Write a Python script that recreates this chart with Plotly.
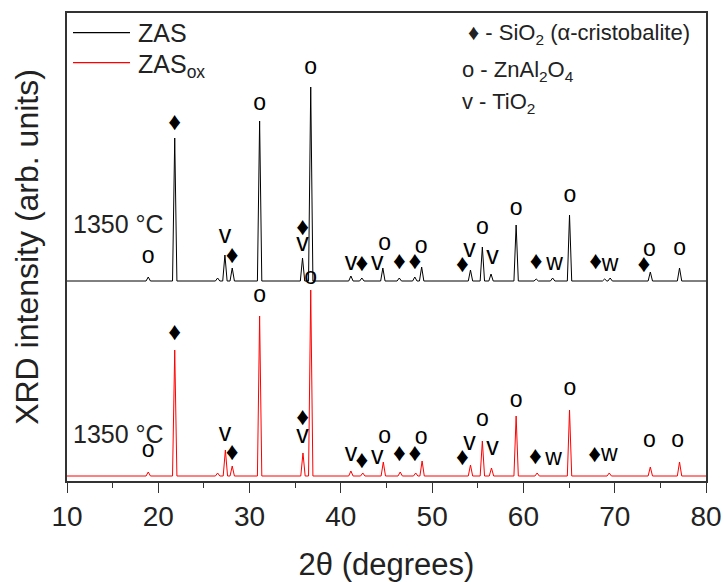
import plotly.graph_objects as go

# ---------------- data ----------------
# 2-theta positions (degrees) and peak-top intensities (arb. units, offset traces)
zas_base = 200
zas_peak_pos = [18.9, 21.8, 26.5, 27.3, 28.1, 31.1, 35.8, 36.7, 41.1, 42.3, 44.6,
                46.4, 48.1, 48.85, 54.2, 55.5, 56.45, 59.2, 61.4, 63.2, 65.05,
                68.9, 69.5, 73.9, 77.1]
zas_peak_int = [204, 343, 203, 226, 213, 360, 223, 394, 205, 203, 213,
                203, 204, 214, 211, 234, 207, 256, 202, 203, 266,
                202, 203, 209, 213]

zasox_base = 5
zasox_peak_pos = [18.9, 21.8, 26.5, 27.35, 28.1, 31.1, 35.85, 36.7, 41.1, 42.4, 44.65,
                  46.5, 48.2, 48.9, 54.2, 55.5, 56.5, 59.2, 61.5, 65.05, 69.4,
                  73.9, 77.1]
zasox_peak_int = [9, 131, 8, 31, 15, 165, 28, 191, 10, 8, 19,
                  9, 8, 20, 16, 40, 13, 65, 8, 71, 8,
                  14, 19]

# phase labels on peaks (label centre positions)
zas_lab_text = ["o", "♦", "v", "♦", "o", "♦", "v", "o", "v", "♦", "v", "o",
                "♦", "♦", "o", "♦", "v", "o", "v", "o", "♦", "w", "o",
                "♦", "w", "♦", "o", "o"]
zas_lab_x = [18.9, 21.8, 27.3, 28.1, 31.1, 35.8, 35.8, 36.7, 41.1, 42.3, 44.0, 44.8,
             46.4, 48.1, 48.8, 53.3, 54.1, 55.5, 56.6, 59.2, 61.4, 63.4, 65.1,
             67.9, 69.5, 73.2, 73.8, 77.1]
zas_lab_y = [217, 354, 240, 221, 370, 249, 232, 406, 213, 213, 213, 230,
             215, 215, 227, 212, 226, 246, 219, 265, 215, 213, 278,
             215, 212, 212, 224, 225]

zasox_lab_text = ["o", "♦", "v", "♦", "o", "♦", "v", "o", "v", "♦", "v", "o",
                  "♦", "♦", "o", "♦", "v", "o", "v", "o", "♦", "w", "o",
                  "♦", "w", "o", "o"]
zasox_lab_x = [18.9, 21.8, 27.3, 28.1, 31.1, 35.8, 35.8, 36.7, 41.1, 42.3, 44.0, 44.8,
               46.4, 48.1, 48.8, 53.3, 54.1, 55.5, 56.6, 59.2, 61.3, 63.3, 65.1,
               67.8, 69.4, 73.8, 76.9]
zasox_lab_y = [23, 144, 42, 24, 178, 59, 40, 196, 22, 16, 19, 37,
               23, 23, 36, 19, 33, 54, 28, 73, 20, 18, 85,
               22, 22, 33, 33]

x_ticks = [10, 20, 30, 40, 50, 60, 70, 80]
series_names = ["ZAS", "ZAS<sub>ox</sub>"]
series_colors = ["black", "red"]

FONT = "Liberation Sans, Arial, DejaVu Sans, sans-serif"

# glyph-specific vertical nudges so the visible glyph centre sits on the label position
GLYPH_SIZE = {"♦": 25, "v": 25, "o": 23, "w": 23}
GLYPH_NUDGE = {"♦": 3, "v": 4, "o": 7, "w": 4}


def pattern(base, pos, inten, half=0.24):
    xs, ys = [10.0], [base]
    for p, h in sorted(zip(pos, inten)):
        xs += [p - half, p, p + half]
        ys += [base, h, base]
    xs.append(80.0)
    ys.append(base)
    return xs, ys


fig = go.Figure()

bx, by = pattern(zas_base, zas_peak_pos, zas_peak_int)
rx, ry = pattern(zasox_base, zasox_peak_pos, zasox_peak_int)

fig.add_trace(go.Scatter(x=bx, y=by, mode="lines", name=series_names[0],
                         line=dict(color=series_colors[0], width=1), showlegend=False))
fig.add_trace(go.Scatter(x=rx, y=ry, mode="lines", name=series_names[1],
                         line=dict(color=series_colors[1], width=1), showlegend=False))

for texts, xs, ys in [(zas_lab_text, zas_lab_x, zas_lab_y),
                      (zasox_lab_text, zasox_lab_x, zasox_lab_y)]:
    fig.add_trace(go.Scatter(
        x=xs, y=[y + GLYPH_NUDGE[t] for t, y in zip(texts, ys)], mode="text", text=texts,
        textfont=dict(family=FONT, size=[GLYPH_SIZE[t] for t in texts], color="black"),
        showlegend=False, hoverinfo="skip"))

# temperature labels
for yy in [257, 47]:
    fig.add_annotation(x=10.4, y=yy, xref="x", yref="y", text="1350 °C", showarrow=False,
                       xanchor="left", yanchor="middle",
                       font=dict(family=FONT, size=25, color="#222"))

# series legend (drawn manually to match the reference spacing)
leg_y = [0.9580, 0.8940]
leg_text_y = [0.9580, 0.8870]
for name, col, ly, ty in zip(series_names, series_colors, leg_y, leg_text_y):
    fig.add_shape(type="line", xref="paper", yref="paper", x0=0.0094, x1=0.0986,
                  y0=ly, y1=ly, line=dict(color=col, width=1.2))
    fig.add_annotation(x=0.1080, y=ty, xref="paper", yref="paper", text=name, showarrow=False,
                       xanchor="left", yanchor="middle",
                       font=dict(family=FONT, size=25, color="#222"))

# phase key
key_lines = ["♦ - SiO<sub>2</sub> (α-cristobalite)",
             "o - ZnAl<sub>2</sub>O<sub>4</sub>",
             "v - TiO<sub>2</sub>"]
key_y = [0.955, 0.876, 0.808]
key_x = [0.624, 0.615, 0.615]
for t, xx, yy in zip(key_lines, key_x, key_y):
    fig.add_annotation(x=xx, y=yy, xref="paper", yref="paper", text=t, showarrow=False,
                       xanchor="left", yanchor="middle",
                       font=dict(family=FONT, size=22, color="#222"))

fig.update_layout(
    width=724, height=582,
    margin=dict(l=67, r=18, t=13, b=101),
    paper_bgcolor="white", plot_bgcolor="white",
    font=dict(family=FONT, color="#222"),
    showlegend=False,
)

fig.update_xaxes(range=[10, 80], tickvals=x_ticks, ticktext=[str(v) for v in x_ticks],
                 automargin=False,
                 ticks="outside", ticklen=10, tickwidth=1, tickcolor="#333",
                 minor=dict(dtick=5, tick0=0, ticks="outside", ticklen=5, tickcolor="#333"),
                 showline=True, linecolor="#333", linewidth=1.5, mirror=True,
                 showgrid=False, zeroline=False,
                 tickfont=dict(family=FONT, size=28, color="#222"),
                 title=dict(text="2θ (degrees)", font=dict(family=FONT, size=31, color="#222"),
                            standoff=22))
fig.update_yaxes(range=[0, 468], showticklabels=False, ticks="", automargin=False,
                 showline=True, linecolor="#333", linewidth=1.5, mirror=True,
                 showgrid=False, zeroline=False,
                 title=dict(text="XRD intensity (arb. units)",
                            font=dict(family=FONT, size=32, color="#222"), standoff=17))

fig.write_html("out.html")
